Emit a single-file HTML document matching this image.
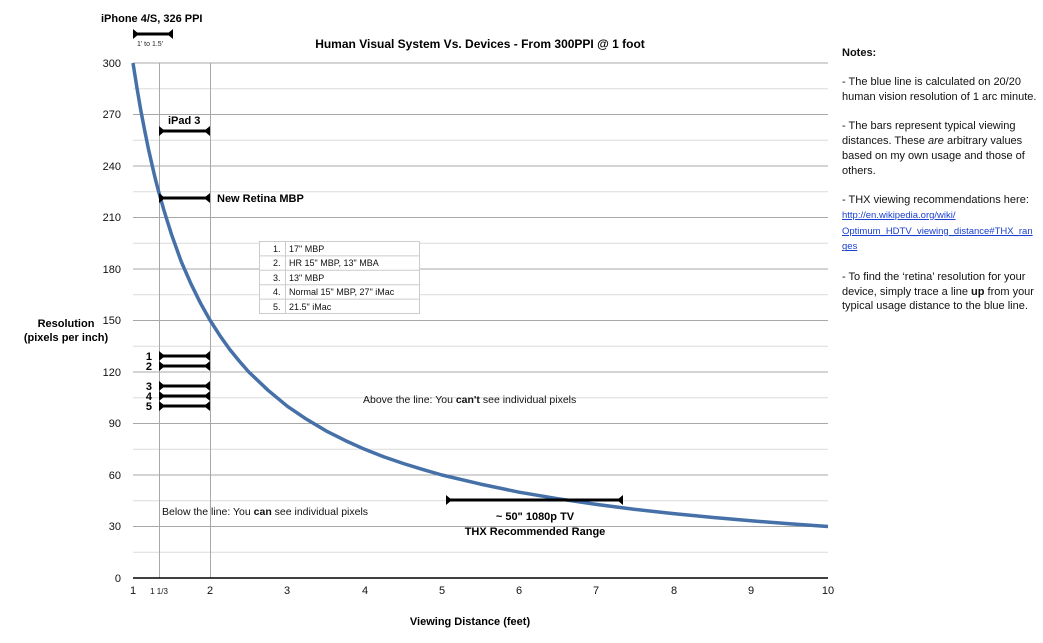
<!DOCTYPE html>
<html><head><meta charset="utf-8"><style>
body{margin:0;background:#fff;width:1043px;height:643px;overflow:hidden;font-family:"Liberation Sans",sans-serif;}
.notes{position:absolute;left:842px;top:46px;width:200px;font-size:11px;line-height:14.8px;color:#111;}
.notes p{margin:0 0 14.5px 0;}
.notes a{color:#1a3fd0;text-decoration:underline;}
</style></head><body>
<svg width="1043" height="643" style="position:absolute;left:0;top:0" font-family="Liberation Sans, sans-serif">
<g stroke="#dcdcdc" stroke-width="1">
<line x1="133" x2="828" y1="88.75" y2="88.75"/><line x1="133" x2="828" y1="140.25" y2="140.25"/><line x1="133" x2="828" y1="191.75" y2="191.75"/><line x1="133" x2="828" y1="243.25" y2="243.25"/><line x1="133" x2="828" y1="294.75" y2="294.75"/><line x1="133" x2="828" y1="346.25" y2="346.25"/><line x1="133" x2="828" y1="397.75" y2="397.75"/><line x1="133" x2="828" y1="449.25" y2="449.25"/><line x1="133" x2="828" y1="500.75" y2="500.75"/><line x1="133" x2="828" y1="552.25" y2="552.25"/>
</g>
<g stroke="#a8a8a8" stroke-width="1">
<line x1="133" x2="828" y1="63" y2="63"/><line x1="133" x2="828" y1="114.5" y2="114.5"/><line x1="133" x2="828" y1="166" y2="166"/><line x1="133" x2="828" y1="217.5" y2="217.5"/><line x1="133" x2="828" y1="269" y2="269"/><line x1="133" x2="828" y1="320.5" y2="320.5"/><line x1="133" x2="828" y1="372" y2="372"/><line x1="133" x2="828" y1="423.5" y2="423.5"/><line x1="133" x2="828" y1="475" y2="475"/><line x1="133" x2="828" y1="526.5" y2="526.5"/>
<line x1="159.5" x2="159.5" y1="63" y2="578"/><line x1="210.5" x2="210.5" y1="63" y2="578"/>
</g>
<line x1="133" x2="828" y1="578" y2="578" stroke="#000" stroke-width="1.5"/>
<g font-size="11" fill="#111" text-anchor="end">
<text x="121" y="67">300</text><text x="121" y="118">270</text><text x="121" y="170">240</text><text x="121" y="221">210</text><text x="121" y="273">180</text><text x="121" y="324">150</text><text x="121" y="376">120</text><text x="121" y="427">90</text><text x="121" y="479">60</text><text x="121" y="530">30</text><text x="121" y="582">0</text>
</g>
<g font-size="11" fill="#111" text-anchor="middle">
<text x="133" y="594">1</text><text x="210" y="594">2</text><text x="287" y="594">3</text><text x="365" y="594">4</text><text x="442" y="594">5</text><text x="519" y="594">6</text><text x="596" y="594">7</text><text x="674" y="594">8</text><text x="751" y="594">9</text><text x="828" y="594">10</text>
<text x="159" y="594" font-size="8">1 1/3</text>
</g>
<polyline fill="none" stroke="#4670a8" stroke-width="3.5" stroke-linejoin="round" points="133,63 136.9,87.5 140.7,109.8 144.6,130.1 148.4,148.8 152.3,166 155.5,179.6 158.7,191.8 163.9,210.1 167.7,222.4 171.6,234.7 181.2,261.5 190.9,283.7 200.5,303.2 210.2,320.5 219.9,335.6 229.5,349.1 239.2,361 248.8,372 268.1,390.3 287.4,406.3 306.8,419.4 326.1,430.9 345.4,440.6 364.7,449.3 384,456.9 403.3,463.5 422.6,469.4 441.9,475 480.5,484.1 519.1,492.2 557.7,498.7 596.3,504.4 634.9,509.4 673.5,513.6 712.1,517.4 750.8,520.8 789.4,523.8 828,526.5"/>
<g fill="#000">
<rect x="133" y="32.5" width="40" height="3"/><polygon points="133,29 133,39 139,34"/><polygon points="173,29 173,39 167,34"/>
<rect x="159" y="129.5" width="51" height="3"/><polygon points="159,126 159,136 165,131"/><polygon points="210,126 210,136 204,131"/>
<rect x="159" y="196.5" width="51" height="3"/><polygon points="159,193 159,203 165,198"/><polygon points="210,193 210,203 204,198"/>
<rect x="159" y="354.5" width="51" height="3"/><polygon points="159,351 159,361 165,356"/><polygon points="210,351 210,361 204,356"/>
<rect x="159" y="364.5" width="51" height="3"/><polygon points="159,361 159,371 165,366"/><polygon points="210,361 210,371 204,366"/>
<rect x="159" y="384.5" width="51" height="3"/><polygon points="159,381 159,391 165,386"/><polygon points="210,381 210,391 204,386"/>
<rect x="159" y="394.5" width="51" height="3"/><polygon points="159,391 159,401 165,396"/><polygon points="210,391 210,401 204,396"/>
<rect x="159" y="404.5" width="51" height="3"/><polygon points="159,401 159,411 165,406"/><polygon points="210,401 210,411 204,406"/>
<rect x="446" y="498.5" width="177" height="3"/><polygon points="446,495 446,505 452,500"/><polygon points="623,495 623,505 617,500"/>
</g>
<g font-size="11" font-weight="bold" fill="#000">
<text x="101" y="22">iPhone 4/S, 326 PPI</text>
<text x="168" y="124">iPad 3</text>
<text x="217" y="202">New Retina MBP</text>
<text x="152" y="360" text-anchor="end">1</text><text x="152" y="370" text-anchor="end">2</text><text x="152" y="390" text-anchor="end">3</text><text x="152" y="400" text-anchor="end">4</text><text x="152" y="410" text-anchor="end">5</text>
<text x="535" y="520" text-anchor="middle">~ 50" 1080p TV</text>
<text x="535" y="535" text-anchor="middle">THX Recommended Range</text>
<text x="480" y="48" text-anchor="middle" font-size="12">Human Visual System Vs. Devices - From 300PPI @ 1 foot</text>
<text x="66" y="327" text-anchor="middle">Resolution</text>
<text x="66" y="341" text-anchor="middle">(pixels per inch)</text>
<text x="470" y="625" text-anchor="middle">Viewing Distance (feet)</text>
</g>
<text x="137" y="46" font-size="7" fill="#222">1' to 1.5'</text>
<g font-size="10.5" fill="#111">
<text x="363" y="403">Above the line: You <tspan font-weight="bold">can't</tspan> see individual pixels</text>
<text x="162" y="515">Below the line: You <tspan font-weight="bold">can</tspan> see individual pixels</text>
</g>
<g>
<rect x="259.5" y="241.5" width="160" height="72" fill="#fff" stroke="#ccc"/>
<g stroke="#ccc"><line x1="259.5" x2="419.5" y1="255.9" y2="255.9"/><line x1="259.5" x2="419.5" y1="270.3" y2="270.3"/><line x1="259.5" x2="419.5" y1="284.7" y2="284.7"/><line x1="259.5" x2="419.5" y1="299.1" y2="299.1"/><line x1="285.5" x2="285.5" y1="241.5" y2="313.5"/></g>
<g font-size="9" fill="#111">
<text x="273" y="252">1.</text><text x="289" y="252">17" MBP</text>
<text x="273" y="266">2.</text><text x="289" y="266">HR 15" MBP, 13" MBA</text>
<text x="273" y="281">3.</text><text x="289" y="281">13" MBP</text>
<text x="273" y="295">4.</text><text x="289" y="295">Normal 15" MBP, 27" iMac</text>
<text x="273" y="310">5.</text><text x="289" y="310">21.5" iMac</text>
</g>
</g>
</svg>
<div class="notes">
<p><b>Notes:</b></p>
<p>- The blue line is calculated on 20/20 human vision resolution of 1 arc minute.</p>
<p>- The bars represent typical viewing distances. These <i>are</i> arbitrary values based on my own usage and those of others.</p>
<p>- THX viewing recommendations here:<br><a style="font-size:9.5px">http://en.wikipedia.org/wiki/<br>Optimum_HDTV_viewing_distance#THX_ran<br>ges</a></p>
<p>- To find the ‘retina’ resolution for your device, simply trace a line <b>up</b> from your typical usage distance to the blue line.</p>
</div>
</body></html>
